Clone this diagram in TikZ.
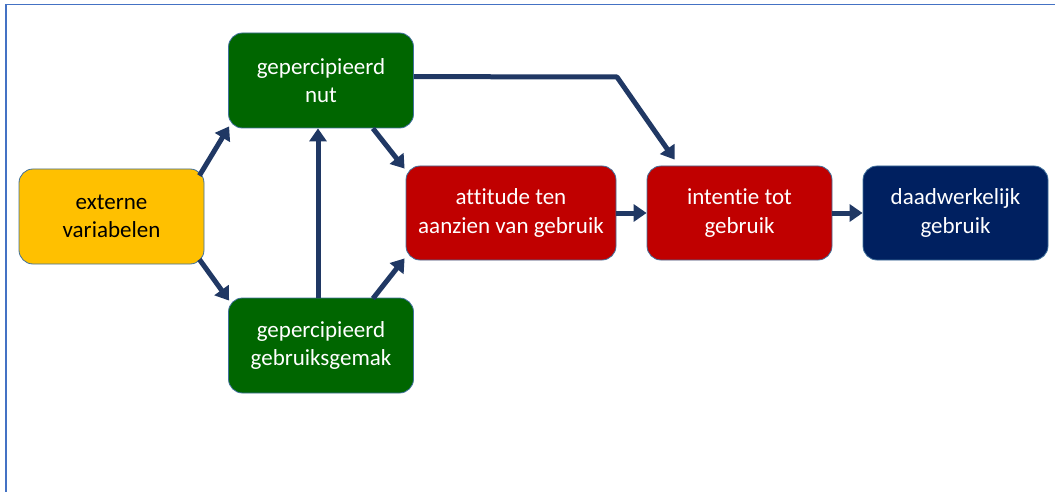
\documentclass[tikz,border=0pt]{standalone}
\usepackage{fontspec}
\setmainfont{Carlito}[Ligatures=NoCommon]
\usetikzlibrary{arrows.meta,calc}

\definecolor{boxyellow}{HTML}{FFC000}
\definecolor{boxgreen}{HTML}{006600}
\definecolor{boxred}{HTML}{C00000}
\definecolor{boxnavy}{HTML}{002060}
\definecolor{boxedge}{HTML}{41719C}
\definecolor{flow}{HTML}{203864}
\definecolor{frameblue}{HTML}{4472C4}

\tikzset{
  stage/.style={draw=boxedge, line width=0.8pt, rounded corners=14pt,
    minimum width=185pt, minimum height=95pt, inner sep=0pt,
    align=center, text=white,
    font=\fontsize{23pt}{28.5pt}\selectfont},
  link/.style={draw=flow, line width=5pt,
    -{Triangle[length=13pt,width=17pt]}},
}

\begin{document}
\begin{tikzpicture}[x=1pt,y=-1pt]
  \useasboundingbox (0,0) rectangle (1055,492);
  % outer frame (top and left edges)
  \draw[frameblue, line width=1.5pt] (6,492) -- (6,4.5) -- (1055,4.5);

  % model components
  \node[stage, fill=boxyellow, text=black] (ext) at (111.5,216.5) {externe\\variabelen};
  \node[stage, fill=boxgreen] (nut) at (321,80.5) {gepercipieerd\\nut};
  \node[stage, fill=boxgreen] (gemak) at (321,345.5) {gepercipieerd\\gebruiksgemak};
  \node[stage, fill=boxred, minimum width=210pt, minimum height=94pt] (att) at (511,213) {attitude ten\\aanzien van gebruik};
  \node[stage, fill=boxred, minimum height=94pt] (int) at (739.5,213) {intentie tot\\gebruik};
  \node[stage, fill=boxnavy, minimum height=94pt] (daad) at (955.5,213) {daadwerkelijk\\gebruik};

  % relations
  \draw[link] ($(ext.north east)+(-5,7)$) -- ($(nut.south west)+(1,-2)$);
  \draw[link] ($(ext.south east)+(-5,-5)$) -- ($(gemak.north west)+(1,3)$);
  \draw[link] ($(gemak.north)+(-3,0)$) -- ($(nut.south)+(-3,0)$);
  \draw[link] ($(nut.south east)+(-41,0)$) -- ($(att.north west)+(-1,3)$);
  \draw[link] ($(gemak.north east)+(-41,1)$) -- ($(att.south west)+(-1,-2)$);
  \coordinate (bend) at (617,77);
  \draw[link, line join=round] ($(nut.north east)+(0,44)$) -- (bend) -- ($(int.north west)+(28,-6)$);
  \draw[link] (att.east) -- (int.west);
  \draw[link] (int.east) -- (daad.west);
\end{tikzpicture}
\end{document}
